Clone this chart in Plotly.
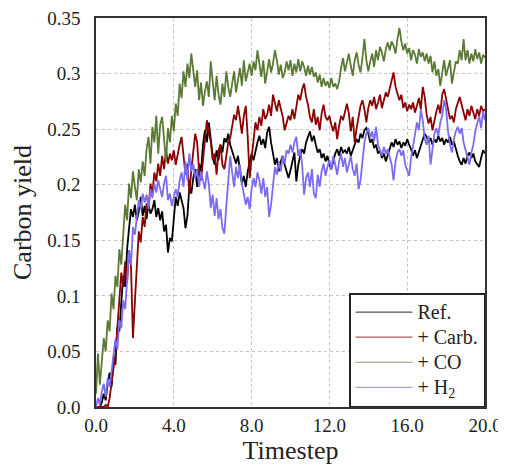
import plotly.graph_objects as go

timestep = [i / 10 for i in range(201)]

ref = [
    0.000, 0.000, 0.000, 0.004, 0.012, 0.006, 0.022, 0.031, 0.018, 0.045,
    0.038, 0.072, 0.068, 0.094, 0.118, 0.108, 0.142, 0.161, 0.178, 0.171,
    0.182, 0.168, 0.176, 0.189, 0.172, 0.181, 0.169, 0.183, 0.174, 0.178,
    0.186, 0.171, 0.179, 0.168, 0.176, 0.158, 0.164, 0.139, 0.152, 0.149,
    0.168, 0.189, 0.181, 0.193, 0.186, 0.179, 0.161, 0.172, 0.198, 0.192,
    0.206, 0.214, 0.198, 0.219, 0.212, 0.236, 0.249, 0.238, 0.256, 0.242,
    0.226, 0.218, 0.231, 0.222, 0.236, 0.229, 0.242, 0.238, 0.246, 0.236,
    0.231, 0.224, 0.219, 0.226, 0.214, 0.201, 0.208, 0.198, 0.212, 0.219,
    0.228, 0.222, 0.231, 0.238, 0.244, 0.236, 0.241, 0.233, 0.247, 0.252,
    0.238, 0.226, 0.218, 0.224, 0.212, 0.221, 0.226, 0.218, 0.211, 0.206,
    0.213, 0.221, 0.229, 0.203, 0.218, 0.226, 0.232, 0.228, 0.238, 0.243,
    0.248, 0.239, 0.244, 0.236, 0.229, 0.232, 0.224, 0.228, 0.221, 0.226,
    0.218, 0.214, 0.221, 0.228, 0.232, 0.226, 0.234, 0.229, 0.231, 0.228,
    0.234, 0.226, 0.231, 0.236, 0.241, 0.238, 0.246, 0.242, 0.249, 0.251,
    0.246, 0.238, 0.241, 0.233, 0.236, 0.228, 0.231, 0.224, 0.228, 0.221,
    0.226, 0.232, 0.238, 0.234, 0.241, 0.236, 0.239, 0.233, 0.238, 0.235,
    0.241, 0.236, 0.232, 0.226, 0.231, 0.224, 0.229, 0.236, 0.241, 0.246,
    0.243, 0.238, 0.242, 0.236, 0.241, 0.238, 0.244, 0.239, 0.242, 0.236,
    0.241, 0.238, 0.243, 0.236, 0.239, 0.231, 0.226, 0.221, 0.218, 0.224,
    0.219, 0.226, 0.229, 0.224, 0.228, 0.221, 0.218, 0.216, 0.224, 0.231,
    0.228,
]

carb = [
    0.000, 0.000, 0.000, 0.000, 0.000, 0.002, 0.000, 0.008, 0.021, 0.035,
    0.048, 0.072, 0.098, 0.121, 0.108, 0.131, 0.112, 0.141, 0.126, 0.062,
    0.095, 0.123, 0.158, 0.148, 0.171, 0.162, 0.183, 0.178, 0.201, 0.192,
    0.211, 0.203, 0.219, 0.208, 0.226, 0.214, 0.231, 0.219, 0.228, 0.222,
    0.231, 0.218, 0.229, 0.236, 0.243, 0.228, 0.209, 0.219, 0.192, 0.213,
    0.231, 0.246, 0.238, 0.212, 0.204, 0.221, 0.239, 0.258, 0.246, 0.239,
    0.222, 0.228, 0.209, 0.231, 0.236, 0.218, 0.214, 0.226, 0.238, 0.242,
    0.251, 0.263, 0.258, 0.271, 0.259, 0.246, 0.262, 0.271, 0.243, 0.206,
    0.224, 0.242, 0.256, 0.249, 0.261, 0.253, 0.268, 0.259, 0.263, 0.272,
    0.262, 0.281, 0.273, 0.266, 0.276, 0.268, 0.261, 0.249, 0.256, 0.262,
    0.258, 0.268, 0.259, 0.272, 0.281, 0.276, 0.286, 0.291, 0.279, 0.272,
    0.261, 0.256, 0.268, 0.254, 0.261, 0.249, 0.264, 0.272, 0.261, 0.258,
    0.262, 0.254, 0.248, 0.256, 0.241, 0.253, 0.262, 0.258, 0.266, 0.273,
    0.264, 0.248, 0.261, 0.238, 0.251, 0.262, 0.271, 0.276, 0.268, 0.256,
    0.269, 0.276, 0.271, 0.279, 0.268, 0.274, 0.281, 0.269, 0.277, 0.283,
    0.279, 0.286, 0.292, 0.301, 0.288, 0.282, 0.276, 0.281, 0.269, 0.274,
    0.266, 0.272, 0.268, 0.274, 0.265, 0.271, 0.278, 0.268, 0.288, 0.279,
    0.263, 0.255, 0.261, 0.249, 0.258, 0.266, 0.272, 0.264, 0.281, 0.286,
    0.277, 0.268, 0.259, 0.262, 0.256, 0.268, 0.274, 0.279, 0.272, 0.264,
    0.258, 0.268, 0.262, 0.271, 0.264, 0.259, 0.268, 0.262, 0.271, 0.266,
    0.268,
]

co = [
    0.012, 0.048, 0.020, 0.038, 0.062, 0.050, 0.078, 0.068, 0.102, 0.088,
    0.118, 0.108, 0.142, 0.128, 0.158, 0.182, 0.168, 0.201, 0.188, 0.212,
    0.198, 0.186, 0.214, 0.202, 0.221, 0.208, 0.232, 0.243, 0.219, 0.252,
    0.238, 0.262, 0.228, 0.254, 0.261, 0.243, 0.221, 0.251, 0.238, 0.262,
    0.248, 0.273, 0.262, 0.291, 0.278, 0.302, 0.288, 0.309, 0.296, 0.318,
    0.301, 0.288, 0.303, 0.276, 0.292, 0.271, 0.284, 0.293, 0.279, 0.311,
    0.293, 0.276, 0.298, 0.281, 0.272, 0.291, 0.279, 0.302, 0.288, 0.279,
    0.291, 0.302, 0.283, 0.294, 0.305, 0.289, 0.312, 0.293, 0.301, 0.309,
    0.298, 0.311, 0.303, 0.321, 0.309, 0.297, 0.312, 0.291, 0.302, 0.313,
    0.301, 0.309, 0.321, 0.312, 0.299, 0.308, 0.296, 0.301, 0.311, 0.303,
    0.312, 0.298, 0.309, 0.301, 0.313, 0.302, 0.311, 0.306, 0.298, 0.307,
    0.299, 0.306, 0.297, 0.301, 0.292, 0.299, 0.288, 0.296, 0.289, 0.293,
    0.287, 0.296, 0.288, 0.291, 0.286, 0.293, 0.305, 0.314, 0.302, 0.311,
    0.318, 0.307, 0.298, 0.312, 0.319, 0.308, 0.301, 0.314, 0.331, 0.312,
    0.302, 0.311, 0.318, 0.306, 0.321, 0.312, 0.324, 0.319, 0.311, 0.322,
    0.328, 0.321, 0.329, 0.325, 0.318, 0.331, 0.341, 0.329, 0.321, 0.327,
    0.318, 0.323, 0.312, 0.321, 0.317, 0.309, 0.322, 0.315, 0.319, 0.311,
    0.318, 0.309, 0.316, 0.301, 0.311, 0.298, 0.304, 0.289, 0.301, 0.312,
    0.298, 0.304, 0.312, 0.291, 0.303, 0.311, 0.309, 0.321, 0.312, 0.331,
    0.312, 0.321, 0.309, 0.318, 0.311, 0.322, 0.313, 0.319, 0.309, 0.317,
    0.314,
]

h2 = [
    0.000, 0.008, 0.002, 0.014, 0.021, 0.009, 0.026, 0.018, 0.032, 0.048,
    0.061, 0.052, 0.078, 0.071, 0.096, 0.088, 0.118, 0.141, 0.128, 0.162,
    0.155, 0.172, 0.186, 0.178, 0.192, 0.184, 0.191, 0.178, 0.196, 0.188,
    0.201, 0.193, 0.204, 0.196, 0.189, 0.201, 0.208, 0.186, 0.192, 0.181,
    0.188, 0.196, 0.189, 0.204, 0.211, 0.198, 0.221, 0.204, 0.228, 0.212,
    0.219, 0.206, 0.214, 0.198, 0.211, 0.204, 0.196, 0.212, 0.201, 0.179,
    0.191, 0.172, 0.188, 0.169, 0.178, 0.161, 0.156, 0.181, 0.202, 0.226,
    0.211, 0.198, 0.216, 0.206, 0.218, 0.201, 0.192, 0.182, 0.189, 0.178,
    0.196, 0.206, 0.198, 0.211, 0.204, 0.192, 0.206, 0.189, 0.198, 0.171,
    0.182, 0.201, 0.216, 0.209, 0.221, 0.212, 0.226, 0.219, 0.231, 0.228,
    0.236, 0.229, 0.238, 0.243, 0.226, 0.232, 0.218, 0.191, 0.206, 0.211,
    0.198, 0.214, 0.192, 0.188, 0.209, 0.198, 0.212, 0.219, 0.208, 0.216,
    0.222, 0.214, 0.226, 0.218, 0.209, 0.221, 0.228, 0.216, 0.224, 0.211,
    0.218, 0.226, 0.214, 0.208, 0.219, 0.196, 0.204, 0.221, 0.238, 0.246,
    0.251, 0.242, 0.248, 0.239, 0.252, 0.236, 0.231, 0.226, 0.234, 0.228,
    0.232, 0.226, 0.218, 0.204, 0.221, 0.229, 0.232, 0.226, 0.231, 0.218,
    0.212, 0.208, 0.224, 0.236, 0.248, 0.256, 0.249, 0.268, 0.258, 0.241,
    0.236, 0.244, 0.218, 0.231, 0.246, 0.251, 0.244, 0.256, 0.262, 0.276,
    0.268, 0.248, 0.236, 0.229, 0.241, 0.248, 0.252, 0.246, 0.251, 0.238,
    0.231, 0.224, 0.218, 0.229, 0.236, 0.248, 0.256, 0.262, 0.251, 0.266,
    0.258,
]

series_names = ["Ref.", "+ Carb.", "+ CO", "+ H<sub>2</sub>"]
series_values = [ref, carb, co, h2]
colors = ["#000000", "#8b0000", "#5b7a35", "#7b6cf0"]
legend_colors = ["#555555", "#b05a5a", "#8a9a78", "#a8a0f0"]

x_tick_vals = [0, 4, 8, 12, 16, 20]
x_tick_text = ["0.0", "4.0", "8.0", "12.0", "16.0", "20.0"]
y_tick_vals = [0, 0.05, 0.1, 0.15, 0.2, 0.25, 0.3, 0.35]
y_tick_text = ["0.0", "0.05", "0.1", "0.15", "0.2", "0.25", "0.3", "0.35"]

FONT = "Liberation Serif, DejaVu Serif, serif"
TXT = "#222222"

fig = go.Figure()
for name, vals, col in zip(series_names, series_values, colors):
    fig.add_trace(go.Scatter(
        x=timestep, y=vals, mode="lines", name=name, showlegend=False,
        line=dict(color=col, width=1.8),
    ))
# legend entries (thin lines, as in the reference legend)
for name, col in zip(series_names, legend_colors):
    fig.add_trace(go.Scatter(
        x=[None], y=[None], mode="lines",
        name="<span style='font-size:20px'>" + name + "</span>",
        line=dict(color=col, width=1.2), hoverinfo="skip",
    ))

axis_common = dict(
    showline=True, linecolor="#333333", linewidth=1.5, mirror=True,
    showgrid=True, gridcolor="#c4c4c4", griddash="dot", gridwidth=1,
    zeroline=False, ticks="", automargin=False, ticklabeloverflow="allow",
    tickfont=dict(family=FONT, size=19, color=TXT),
)

fig.update_layout(
    width=498, height=460,
    margin=dict(l=88, r=21, t=10, b=61),
    paper_bgcolor="white", plot_bgcolor="white",
    font=dict(family=FONT, color=TXT),
    xaxis=dict(range=[0, 20], tickvals=x_tick_vals, ticktext=x_tick_text,
               ticklabelstandoff=0,
               title=dict(text="Timestep", font=dict(family=FONT, size=26, color=TXT), standoff=4),
               **axis_common),
    yaxis=dict(range=[0, 0.35], tickvals=y_tick_vals, ticktext=y_tick_text,
               ticklabelstandoff=10,
               title=dict(text="Carbon yield", font=dict(family=FONT, size=26, color=TXT), standoff=8),
               **axis_common),
    legend=dict(x=1, xanchor="right", y=0, yanchor="bottom",
                bgcolor="white", bordercolor="#222222", borderwidth=1.5,
                font=dict(family=FONT, size=17, color=TXT),
                itemwidth=57, tracegroupgap=0),
    showlegend=True,
)

fig.write_html("out.html")
